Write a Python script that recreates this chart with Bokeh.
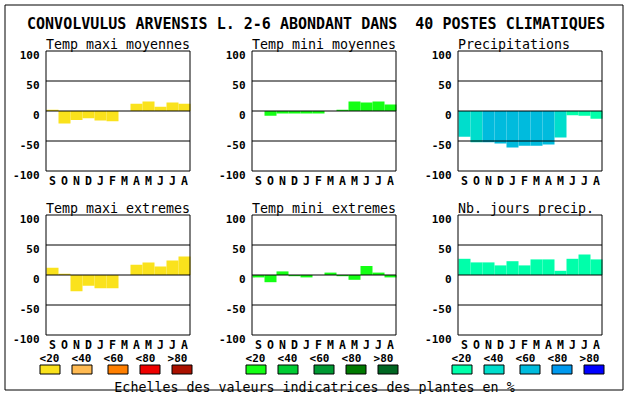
from bokeh.plotting import figure
from bokeh.models import Range1d, ColumnDataSource
from bokeh.core.properties import value
from bokeh.embed import file_html
from bokeh.resources import INLINE

# ---------------- data ----------------
main_title = "CONVOLVULUS ARVENSIS L. 2-6 ABONDANT DANS\u00a0 40 POSTES CLIMATIQUES"
footnote = "Echelles des valeurs indicatrices des plantes en %"
months = ["S", "O", "N", "D", "J", "F", "M", "A", "M", "J", "J", "A"]
y_ticks = [100, 50, 0, -50, -100]
y_tick_labels = ["100", "50", "0", "-50", "-100"]
grid_levels = [50, 0, -50]
class_labels = ["<20", "<40", "<60", "<80", ">80"]

panel_titles = ["Temp maxi moyennes", "Temp mini moyennes", "Precipitations",
                "Temp maxi extremes", "Temp mini extremes", "Nb. jours precip."]

temp_maxi_moyennes = [2, -21, -15, -12, -16, -17, 0, 12, 16, 7, 14, 12]
temp_mini_moyennes = [0, -8, -4, -4, -4, -4, 0, 2, 16, 14, 16, 11]
precipitations = [-43, -52, -52, -54, -61, -58, -58, -56, -44, -7, -8, -13]
temp_maxi_extremes = [12, 2, -27, -18, -22, -22, 0, 17, 21, 14, 24, 31]
temp_mini_extremes = [-4, -12, 6, -2, -4, 0, 4, -2, -8, 15, 4, -4]
nb_jours_precip = [27, 21, 21, 16, 23, 16, 26, 26, 7, 27, 34, 26]

# colour class of each bar (index into the panel's scale)
cls_temp_maxi_moyennes = [0, 0, 0, 0, 0, 0, 0, 0, 0, 0, 0, 0]
cls_temp_mini_moyennes = [0, 0, 0, 0, 0, 0, 0, 0, 0, 0, 0, 0]
cls_precipitations = [1, 1, 2, 2, 2, 2, 2, 2, 1, 0, 0, 0]
cls_temp_maxi_extremes = [0, 0, 0, 0, 0, 0, 0, 0, 0, 0, 0, 0]
cls_temp_mini_extremes = [0, 0, 0, 0, 0, 0, 0, 0, 0, 0, 0, 0]
cls_nb_jours_precip = [0, 0, 0, 0, 0, 0, 0, 0, 0, 0, 0, 0]

warm_scale = ["#FAE21C", "#FFBA52", "#FF7F00", "#EE0000", "#AA1100"]
green_scale = ["#14FF14", "#00CC33", "#009933", "#007A00", "#006622"]
blue_scale = ["#00FFAA", "#00DDCC", "#00BBDD", "#0099EE", "#0000FF"]

panels = [
    (panel_titles[0], temp_maxi_moyennes, cls_temp_maxi_moyennes, warm_scale),
    (panel_titles[1], temp_mini_moyennes, cls_temp_mini_moyennes, green_scale),
    (panel_titles[2], precipitations, cls_precipitations, blue_scale),
    (panel_titles[3], temp_maxi_extremes, cls_temp_maxi_extremes, warm_scale),
    (panel_titles[4], temp_mini_extremes, cls_temp_mini_extremes, green_scale),
    (panel_titles[5], nb_jours_precip, cls_nb_jours_precip, blue_scale),
]
legend_scales = [warm_scale, green_scale, blue_scale]

# ---------------- layout (pixels) ----------------
W, H = 630, 394
COL_X = [45.5, 251.5, 457.5]     # centre of each panel's left frame line
ROW_Y = [50.5, 214.5]            # centre of each panel's top frame line
PW, PH = 144, 120
ux = 12.0 / PW                   # month units per pixel
uy = 200.0 / PH                  # value units per pixel
SWATCH_DX = [4, 36, 72, 104, 136]
LABEL_DX = [3.5, 35.5, 67.5, 99.5, 131.5]
SWATCH_Y = 369
LABEL_Y = 357.7
TITLE_Y = 23.3
FOOT_Y = 386.5
BORDER = (4.5, 622.5, 4.5, 389.5)

MONO = value("DejaVu Sans Mono")

p = figure(width=W, height=H, x_range=Range1d(0, W), y_range=Range1d(H, 0),
           output_backend="svg", toolbar_location=None, min_border=0,
           x_axis_location=None, y_axis_location=None,
           outline_line_color=None, background_fill_color="white",
           border_fill_color="white")
p.xgrid.visible = False
p.ygrid.visible = False

# outer border
p.quad(left=[BORDER[0]], right=[BORDER[1]], top=[BORDER[2]], bottom=[BORDER[3]],
       fill_color=None, line_color="black", line_width=1)

# main title
p.text(x=[(BORDER[0] + BORDER[1]) / 2 + 2], y=[TITLE_Y], text=[main_title],
       text_font=MONO, text_font_style="bold", text_font_size="15px",
       text_align="center", text_baseline="alphabetic", text_color="black")

fl = -0.5 - 0.5 * ux
fr = 11.5 - 0.5 * ux

for k, (title, vals, classes, scale) in enumerate(panels):
    r, c = divmod(k, 3)
    L = COL_X[c] + 0.5
    T = ROW_Y[r]
    xs = -0.5 - L * ux
    ye = 100 + T * uy
    xn, yn = f"x{k}", f"y{k}"
    p.extra_x_ranges[xn] = Range1d(xs, xs + W * ux)
    p.extra_y_ranges[yn] = Range1d(ye - H * uy, ye)
    kw = dict(x_range_name=xn, y_range_name=yn)

    src = ColumnDataSource(dict(x=list(range(len(months))), top=vals,
                                color=[scale[i] for i in classes]))
    p.vbar(x="x", top="top", bottom=0, width=1, source=src,
           fill_color="color", line_color=None, **kw)
    p.segment(x0=fl, x1=fr, y0=grid_levels, y1=grid_levels,
              line_color="black", line_width=1, **kw)
    p.quad(left=[fl], right=[fr], top=[100], bottom=[-100],
           fill_color=None, line_color="black", line_width=1, **kw)
    p.text(x=[fl] * len(y_ticks), y=y_ticks, text=y_tick_labels,
           x_offset=-6.5, y_offset=3.5, text_font=MONO, text_font_style="bold",
           text_font_size="11px", text_align="right",
           text_baseline="alphabetic", text_color="black", **kw)
    p.text(x=list(range(len(months))), y=[-100] * len(months), text=months,
           y_offset=9.8, text_font=MONO, text_font_style="bold",
           text_font_size="11.5px", text_align="center",
           text_baseline="alphabetic", text_color="black", **kw)
    p.text(x=[fl], y=[100], text=[title], y_offset=-7, text_font=MONO,
           text_font_size="13.3px", text_align="left",
           text_baseline="alphabetic", text_color="black", **kw)

# legends
for c, scale in enumerate(legend_scales):
    p.rect(x=[COL_X[c] + d for d in SWATCH_DX], y=[SWATCH_Y] * 5,
           width=20, height=9, fill_color=scale, line_color="black",
           line_width=1)
    p.text(x=[COL_X[c] + d for d in LABEL_DX], y=[LABEL_Y] * 5,
           text=class_labels, text_font=MONO, text_font_style="bold",
           text_font_size="11px", text_align="center",
           text_baseline="alphabetic", text_color="black")

p.text(x=[314], y=[FOOT_Y], text=[footnote], text_font=MONO,
       text_font_size="13.3px", text_align="center",
       text_baseline="alphabetic", text_color="black")

open("out.html", "w").write(file_html(p, INLINE))
